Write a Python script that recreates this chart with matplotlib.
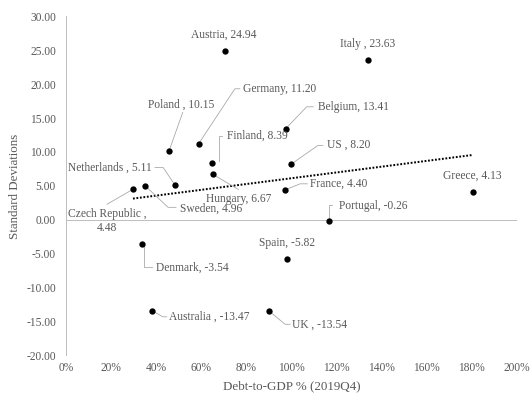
import numpy as np
import matplotlib
matplotlib.use("Agg")
import matplotlib.pyplot as plt
from matplotlib.ticker import FuncFormatter, MultipleLocator

plt.rcParams['font.family'] = ['Liberation Serif', 'DejaVu Serif']
plt.rcParams['axes.unicode_minus'] = False

# ---- data ----
countries = ["Austria", "Italy", "Germany", "Poland", "Belgium", "Finland", "US",
             "Netherlands", "Hungary", "Sweden", "Czech Republic", "France", "Greece",
             "Portugal", "Spain", "Denmark", "Australia", "UK"]
separators = [", ", " , ", ", ", " , ", ", ", ", ", " , ", " , ", ", ", ", ", " ,\n",
              ", ", ", ", ", ", ", ", ", ", " , ", " , "]
debt_to_gdp = [70.6, 133.9, 58.8, 45.7, 97.4, 64.9, 99.9, 48.3, 65.2, 35.2, 29.7,
               97.3, 180.3, 116.5, 98.1, 33.6, 38.3, 90.2]
std_devs = [24.94, 23.63, 11.20, 10.15, 13.41, 8.39, 8.20, 5.11, 6.67, 4.96, 4.48,
            4.40, 4.13, -0.26, -5.82, -3.54, -13.47, -13.54]

# ---- label layout (pixel offsets from the point: text anchor dx, dy, ha; leader path) ----
label_layout = {
    "Austria": ((-1, 15.7, 'center'), None),
    "Italy": ((0, 15.7, 'center'), None),
    "Greece": ((0, 15.6, 'center'), None),
    "Spain": ((0, 15.7, 'center'), None),
    "Germany": ((44.6, 55, 'left'), [(0, 0), (36.3, 55), (41.3, 55)]),
    "Poland": ((12, 45.7, 'center'), [(0, 0), (13.7, 38.5)]),
    "Belgium": ((32.6, 22, 'left'), [(0, 0), (21, 22), (27.6, 22)]),
    "Finland": ((15, 26.6, 'left'), [(6.7, 1.6), (6.7, 26.6), (10, 26.6)]),
    "US": ((35.4, 19, 'left'), [(0, 0), (26.7, 18.7), (31.7, 18.7)]),
    "Netherlands": ((-23.3, 17.4, 'right'), [(0, 0), (-11.7, 17.4), (-20, 17.4)]),
    "Hungary": ((25.5, -24.3, 'center'), [(0, 0), (25.3, -15)]),
    "Sweden": ((34.7, -22.3, 'left'), [(0, 0), (22.7, -21.3), (30.7, -21.3)]),
    "Czech Republic": ((-26, -32, 'center'), [(0, 0), (-26, -15)]),
    "France": ((24.7, 6, 'left'), [(0, 0), (14.7, 6), (22, 6)]),
    "Portugal": ((10.3, 15.6, 'left'), [(0, 0), (0, 16), (3, 16)]),
    "Denmark": ((14, -24, 'left'), [(2.6, -2.4), (2.6, -23.4), (10, -23.4)]),
    "Australia": ((17, -6, 'left'), [(0, 0), (10.4, -6), (14.4, -6)]),
    "UK": ((22.4, -13.7, 'left'), [(0, 0), (15.7, -13), (20.7, -13)]),
}

text_color = '#595959'
line_gray = '#bfbfbf'

W, H = 531, 394
fig = plt.figure(figsize=(W / 72, H / 72), dpi=72)
ax = fig.add_axes([66 / W, 1 - 355 / H, (517 - 66) / W, (355 - 16.5) / H])

ax.set_xlim(0, 200)
ax.set_ylim(-20, 30)
ax.xaxis.set_major_locator(MultipleLocator(20))
ax.yaxis.set_major_locator(MultipleLocator(5))
ax.xaxis.set_major_formatter(FuncFormatter(lambda v, p: f"{v:.0f}%"))
ax.yaxis.set_major_formatter(FuncFormatter(lambda v, p: f"{v:.2f}"))
ax.tick_params(axis='both', length=0, labelsize=11.5, colors=text_color)
ax.tick_params(axis='y', pad=10)
ax.tick_params(axis='x', pad=7)
for s in ['top', 'right', 'bottom']:
    ax.spines[s].set_visible(False)
ax.spines['left'].set_color(line_gray)
ax.spines['left'].set_linewidth(1)
ax.axhline(0, color=line_gray, lw=1, zorder=1)

x = np.array(debt_to_gdp)
y = np.array(std_devs)

# linear trendline
coef = np.polyfit(x, y, 1)
xt = np.array([x.min(), x.max()])
ax.plot(xt, np.polyval(coef, xt), color='black', lw=2, linestyle=(0, (0.9, 0.85)),
        zorder=2, dash_capstyle='butt')

ax.scatter(x, y, s=40, color='black', zorder=4, linewidths=0)

fig.canvas.draw()
to_disp = ax.transData.transform
to_data = ax.transData.inverted().transform

for name, sep, xv, yv in zip(countries, separators, debt_to_gdp, std_devs):
    (dx, dy, ha), path = label_layout[name]
    ax.annotate(f"{name}{sep}{yv:.2f}", xy=(xv, yv), xytext=(dx, dy),
                textcoords='offset points', ha=ha, va='center', fontsize=11.5,
                color=text_color, multialignment='center', zorder=5)
    if path:
        p = to_disp((xv, yv))
        verts = np.array([[p[0] + ox, p[1] + oy] for ox, oy in path])
        d = to_data(verts)
        ax.plot(d[:, 0], d[:, 1], color='#a6a6a6', lw=0.8, zorder=3, clip_on=False)

fig.text(15 / W, 1 - 186 / H, "Standard Deviations", rotation=90, ha='center',
         va='center', fontsize=13, color=text_color)
fig.text(291.5 / W, 1 - 386 / H, "Debt-to-GDP % (2019Q4)", ha='center', va='center',
         fontsize=13, color=text_color)

fig.savefig("out.png", dpi=72)
